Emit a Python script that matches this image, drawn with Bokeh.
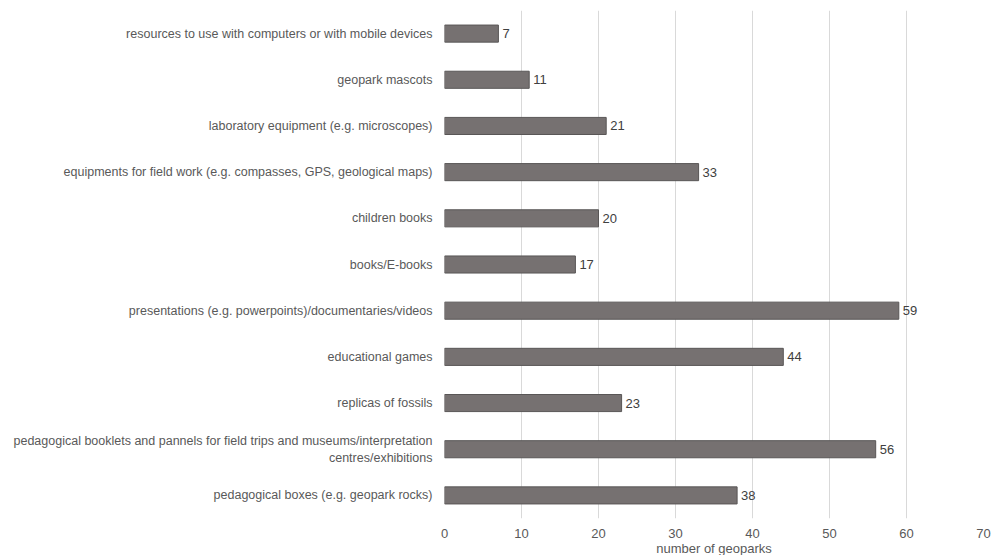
from bokeh.plotting import figure
from bokeh.models import ColumnDataSource, FactorRange, LabelSet
from bokeh.core.properties import value
from bokeh.embed import file_html
from bokeh.resources import INLINE

categories = [
    "resources to use with computers or with mobile devices",
    "geopark mascots",
    "laboratory equipment (e.g. microscopes)",
    "equipments for field work (e.g. compasses, GPS, geological maps)",
    "children books",
    "books/E-books",
    "presentations (e.g. powerpoints)/documentaries/videos",
    "educational games",
    "replicas of fossils",
    "pedagogical booklets and pannels for field trips and museums/interpretation\ncentres/exhibitions",
    "pedagogical boxes (e.g. geopark rocks)",
]
values = [7, 11, 21, 33, 20, 17, 59, 44, 23, 56, 38]
x_ticks = [0, 10, 20, 30, 40, 50, 60, 70]

FONT = "Liberation Sans"

src = ColumnDataSource(dict(cat=categories, val=values, lab=[str(v) for v in values]))

p = figure(
    y_range=FactorRange(factors=list(reversed(categories))),
    x_range=(0, 70),
    frame_width=539, frame_height=508,
    min_border_left=444, min_border_right=20, min_border_top=10, min_border_bottom=37,
    output_backend="svg", toolbar_location=None,
)
p.outline_line_color = None
p.background_fill_color = "white"
p.border_fill_color = "white"

p.hbar(y="cat", right="val", left=0, height=0.37, source=src,
       fill_color="#767171", line_color="#595656", line_width=1)

labels = LabelSet(x="val", y="cat", text="lab", source=src, x_offset=4,
                  text_baseline="middle", text_align="left",
                  text_font=value(FONT), text_font_size="13px", text_color="#404040")
p.add_layout(labels)

p.xaxis.ticker = x_ticks
p.xaxis.axis_label = "number of geoparks"
p.xaxis.axis_label_text_font = FONT
p.xaxis.axis_label_text_font_style = "normal"
p.xaxis.axis_label_text_font_size = "13px"
p.xaxis.axis_label_text_color = "#595959"
p.xaxis.axis_label_standoff = 0
p.xaxis.major_label_text_font = FONT
p.xaxis.major_label_text_font_size = "13px"
p.xaxis.major_label_text_color = "#595959"
p.xaxis.major_label_standoff = 4
p.xaxis.axis_line_color = None
p.xaxis.major_tick_line_color = None
p.xaxis.minor_tick_line_color = None

p.yaxis.major_label_text_font = FONT
p.yaxis.major_label_text_font_size = "12.5px"
p.yaxis.major_label_text_color = "#595959"
p.yaxis.major_label_standoff = 6
p.yaxis.axis_line_color = None
p.yaxis.major_tick_line_color = None
p.yaxis.minor_tick_line_color = None

p.xgrid.grid_line_color = "#d9d9d9"
p.xgrid.ticker = x_ticks
p.ygrid.grid_line_color = None

open("out.html", "w").write(file_html(p, INLINE))
